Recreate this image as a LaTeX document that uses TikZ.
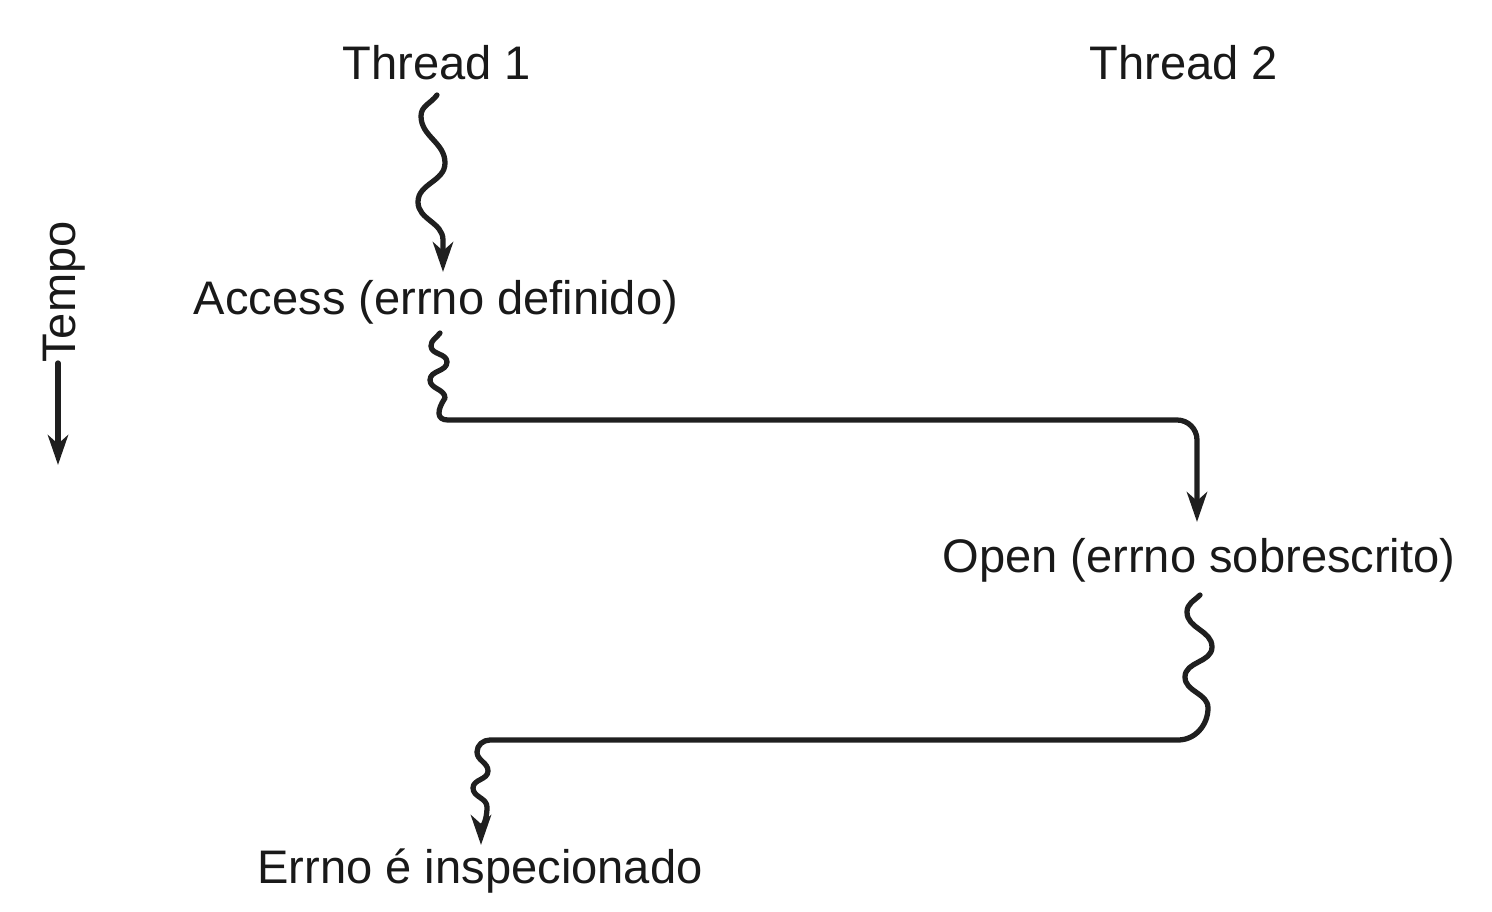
\documentclass[tikz,border=0pt]{standalone}
\usepackage{fontspec}
\setmainfont{Liberation Sans}
\usetikzlibrary{arrows.meta}
\begin{document}
\begin{tikzpicture}[x=0.02cm,y=0.02cm,
  lbl/.style={font=\fontsize{26.8}{32}\selectfont, inner sep=0pt, text=black!90, anchor=base},
  flowline/.style={line width=3pt, draw=black!88, line cap=round, line join=round},
  flow/.style={flowline, -{Stealth[length=17pt,width=11.5pt,inset=5pt]}}]
\useasboundingbox (0,0) rectangle (1492,-912);
% labels
\node[lbl] (t1) at (437,-80) {Thread 1};
\node[lbl] (t2) at (1184,-80) {Thread 2};
\node[lbl] (acc) at (436,-315) {Access (errno definido)};
\node[lbl] (open) at (1199,-572) {Open (errno sobrescrito)};
\node[lbl] (insp) at (480,-883) {Errno é inspecionado};
\node[lbl, rotate=90] (tempo) at (75,-292) {Tempo};
% anchor coordinates
\coordinate (w1s) at (437,-95);
\coordinate (w1e) at (443,-272);
\coordinate (w2s) at (440,-333);
\coordinate (w2e) at (1197,-522);
\coordinate (w3s) at (1200,-595);
\coordinate (w3e) at (481,-845);
\coordinate (ta) at (58,-363);
\coordinate (tb) at (58,-465);
% Thread 1 until access
\draw[flow] (w1s) to[out=-125,in=90] (421,-116) to[out=-90,in=90] (445,-163)
  to[out=-90,in=90] (418,-202) to[out=-90,in=90] (443,-240) -- (w1e);
% access -> open
\draw[flow] (w2s) to[out=-125,in=90] (431,-346) to[out=-90,in=90] (447,-362)
  to[out=-90,in=90] (430,-380) to[out=-90,in=90] (445,-398)
  .. controls (437,-410) and (436,-420) .. (448,-420)
  -- (1177,-420) to[out=0,in=90] (1197,-440) -- (w2e);
% open -> inspect
\draw[flow] (w3s) to[out=-135,in=90] (1187,-612) to[out=-90,in=90] (1212,-647)
  to[out=-90,in=90] (1185,-677) to[out=-90,in=90] (1208,-708)
  to[out=-90,in=0] (1178,-740) -- (490,-740) to[out=180,in=90] (477,-752)
  to[out=-90,in=90] (488,-771) to[out=-90,in=90] (473,-788)
  to[out=-90,in=90] (487,-807) to[out=-90,in=90] (w3e);
% time arrow
\draw[flow] (ta) -- (tb);
\end{tikzpicture}
\end{document}
